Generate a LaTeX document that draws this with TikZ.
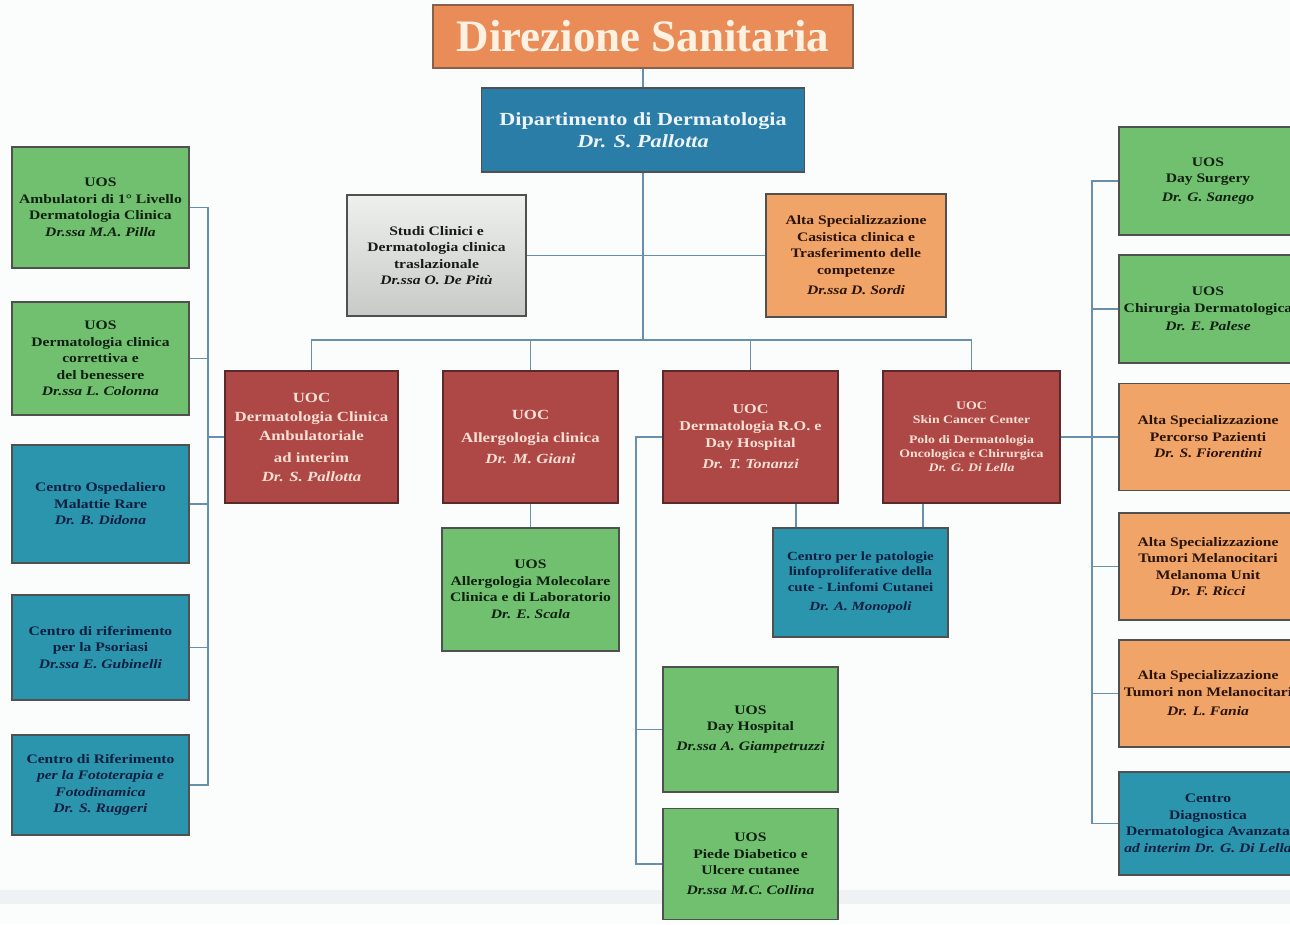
\documentclass[tikz,border=0pt]{standalone}
\usepackage{fontspec}
\setmainfont{Liberation Serif}
\newfontfamily\bxf{Liberation Serif}[FakeStretch=1.2]
\definecolor{bgc}{HTML}{FBFCFC}
\definecolor{bandc}{HTML}{EFF2F2}
\definecolor{linec}{HTML}{6890AA}
\definecolor{bordc}{HTML}{505050}
\definecolor{grn}{HTML}{70C070}
\definecolor{grntxt}{HTML}{102010}
\definecolor{tea}{HTML}{2B95AE}
\definecolor{teatxt}{HTML}{0D1F40}
\definecolor{dblue}{HTML}{2A7DA7}
\definecolor{dbluetxt}{HTML}{EEF4F8}
\definecolor{redb}{HTML}{AE4846}
\definecolor{redtxt}{HTML}{F8E0D4}
\definecolor{redbord}{HTML}{5A2A2A}
\definecolor{orb}{HTML}{F1A468}
\definecolor{ortxt}{HTML}{2A1408}
\definecolor{dirb}{HTML}{EA8C58}
\definecolor{dirbord}{HTML}{8A6048}
\definecolor{dirtxt}{HTML}{FDF2E2}
\definecolor{grT}{HTML}{EEF0EE}
\definecolor{grB}{HTML}{C8CAC8}
\begin{document}
\begin{tikzpicture}[x=1pt,y=-1pt,
  base/.style={draw=bordc, line width=1.8pt, align=center, inner sep=1pt,
    font=\bxf\bfseries\fontsize{13}{16.5}\selectfont},
  sz/.style 2 args={minimum width=#1pt, minimum height=#2pt},
  gbox/.style={base, fill=grn, text=grntxt},
  tbox/.style={base, fill=tea, text=teatxt},
  obox/.style={base, fill=orb, text=ortxt},
  rbox/.style={base, fill=redb, text=redtxt, draw=redbord,
    font=\bxf\bfseries\fontsize{14}{19}\selectfont},
  conn/.style={draw=linec, line width=1.8pt}]
\useasboundingbox (0,0) rectangle (1290,924);
\clip (0,0) rectangle (1290,924);
\fill[bgc] (0,0) rectangle (1290,924);
\fill[bandc] (0,890) rectangle (1290,904);

% top
\node[base, fill=dirb, text=dirtxt, draw=dirbord, sz={420}{63},
  font=\bfseries\fontsize{45}{50}\selectfont] (dir) at (643,36.5) {Direzione Sanitaria};
\node[base, fill=dblue, text=dbluetxt, sz={323}{84},
  font=\bxf\bfseries\fontsize{18.5}{22}\selectfont] (dept) at (643,130)
  {Dipartimento di Dermatologia\\\textit{Dr. S. Pallotta}};
\node[base, top color=grT, bottom color=grB, text=black!90, sz={179}{121}] (studi) at (436.5,255.5)
  {Studi Clinici e\\Dermatologia clinica\\traslazionale\\\textit{Dr.ssa O. De Pitù}};
\node[obox, sz={180}{123}] (alta) at (856,255.5)
  {Alta Specializzazione\\Casistica clinica e\\Trasferimento delle\\competenze\\[4pt]\textit{Dr.ssa D. Sordi}};

% UOC row
\node[rbox, sz={173}{132}] (dca) at (311.5,437)
  {UOC\\Dermatologia Clinica\\Ambulatoriale\\[3pt]ad interim\\\textit{Dr. S. Pallotta}};
\node[rbox, sz={175}{132}] (allg) at (530.5,437)
  {UOC\\[4pt]Allergologia clinica\\[2pt]\textit{Dr. M. Giani}};
\node[rbox, sz={175}{132}, font=\bxf\bfseries\fontsize{13.5}{17}\selectfont] (ro) at (750.5,437)
  {UOC\\Dermatologia R.O. e\\Day Hospital\\[4pt]\textit{Dr. T. Tonanzi}};
\node[rbox, sz={177}{132}, font=\bxf\bfseries\fontsize{11.5}{14}\selectfont] (skin) at (971.5,437)
  {UOC\\Skin Cancer Center\\[6pt]Polo di Dermatologia\\Oncologica e Chirurgica\\\textit{Dr. G. Di Lella}};

% below UOC
\node[gbox, sz={177}{123}] (allm) at (530.5,589.5)
  {UOS\\Allergologia Molecolare\\Clinica e di Laboratorio\\\textit{Dr. E. Scala}};
\node[tbox, sz={175}{109}, font=\bxf\bfseries\fontsize{12.5}{15.5}\selectfont] (linf) at (860.5,582.5)
  {Centro per le patologie\\linfoproliferative della\\cute - Linfomi Cutanei\\[4pt]\textit{Dr. A. Monopoli}};
\node[gbox, sz={175}{125}] (dh) at (750.5,729.5)
  {UOS\\Day Hospital\\[3pt]\textit{Dr.ssa A. Giampetruzzi}};
\node[gbox, sz={175}{111}] (piede) at (750.5,864)
  {UOS\\Piede Diabetico e\\Ulcere cutanee\\[3pt]\textit{Dr.ssa M.C. Collina}};

% left column
\node[gbox, sz={177}{121}] (l1) at (100.5,207.5)
  {UOS\\Ambulatori di 1° Livello\\Dermatologia Clinica\\\textit{Dr.ssa M.A. Pilla}};
\node[gbox, sz={177}{113}] (l2) at (100.5,358.5)
  {UOS\\Dermatologia clinica\\correttiva e\\del benessere\\\textit{Dr.ssa L. Colonna}};
\node[tbox, sz={177}{118}] (l3) at (100.5,504)
  {Centro Ospedaliero\\Malattie Rare\\\textit{Dr. B. Didona}};
\node[tbox, sz={177}{105}] (l4) at (100.5,647.5)
  {Centro di riferimento\\per la Psoriasi\\\textit{Dr.ssa E. Gubinelli}};
\node[tbox, sz={177}{100}] (l5) at (100.5,785)
  {Centro di Riferimento\\\textit{per la Fototerapia e}\\\textit{Fotodinamica}\\\textit{Dr. S. Ruggeri}};

% right column
\node[gbox, sz={178}{108}] (r1) at (1208,181)
  {UOS\\Day Surgery\\[2pt]\textit{Dr. G. Sanego}};
\node[gbox, sz={178}{108}] (r2) at (1208,309)
  {UOS\\Chirurgia Dermatologica\\[2pt]\textit{Dr. E. Palese}};
\node[obox, sz={178}{107}] (r3) at (1208,437)
  {Alta Specializzazione\\Percorso Pazienti\\\textit{Dr. S. Fiorentini}};
\node[obox, sz={178}{107}] (r4) at (1208,566.5)
  {Alta Specializzazione\\Tumori Melanocitari\\Melanoma Unit\\\textit{Dr. F. Ricci}};
\node[obox, sz={178}{107}] (r5) at (1208,693.5)
  {Alta Specializzazione\\Tumori non Melanocitari\\[3pt]\textit{Dr. L. Fania}};
\node[tbox, sz={178}{103}] (r6) at (1208,823.5)
  {Centro\\Diagnostica\\Dermatologica Avanzata\\\textit{ad interim Dr. G. Di Lella}};

% bus coordinates
\coordinate (tb) at (0,340);
\coordinate (lb) at (208,0);
\coordinate (rb) at (636,0);
\coordinate (rbus) at (1092,0);

% connectors
\draw[conn] (dir.south) -- (dir.south |- dept.north);
\draw[conn] (dept.south) -- (dept.south |- tb);
\draw[conn] (studi.east) -- (studi.east -| alta.west);
\draw[conn] (dca.north) -- (dca.north |- tb) -- (skin.north |- tb) -- (skin.north);
\draw[conn] (allg.north) -- (allg.north |- tb);
\draw[conn] (ro.north) -- (ro.north |- tb);
\draw[conn] (allg.south) -- (allm.north);
\draw[conn] ([xshift=45.5pt]ro.south) -- ([xshift=45.5pt]ro.south |- linf.north);
\draw[conn] ([xshift=-48.5pt]skin.south) -- ([xshift=-48.5pt]skin.south |- linf.north);
% left bus
\draw[conn] (l1.east) -- (l1.east -| lb) -- (l5.east -| lb) -- (l5.east);
\foreach \n in {l2,l3,l4} \draw[conn] (\n.east) -- (\n.east -| lb);
\draw[conn] (dca.west) -- (dca.west -| lb);
% R.O. bus
\draw[conn] (ro.west) -- (ro.west -| rb) -- (piede.west -| rb) -- (piede.west);
\draw[conn] (dh.west) -- (dh.west -| rb);
% right bus
\draw[conn] (r1.west) -- (r1.west -| rbus) -- (r6.west -| rbus) -- (r6.west);
\foreach \n in {r2,r4,r5} \draw[conn] (\n.west) -- (\n.west -| rbus);
\draw[conn] (skin.east) -- (skin.east -| r3.west);
\end{tikzpicture}
\end{document}
